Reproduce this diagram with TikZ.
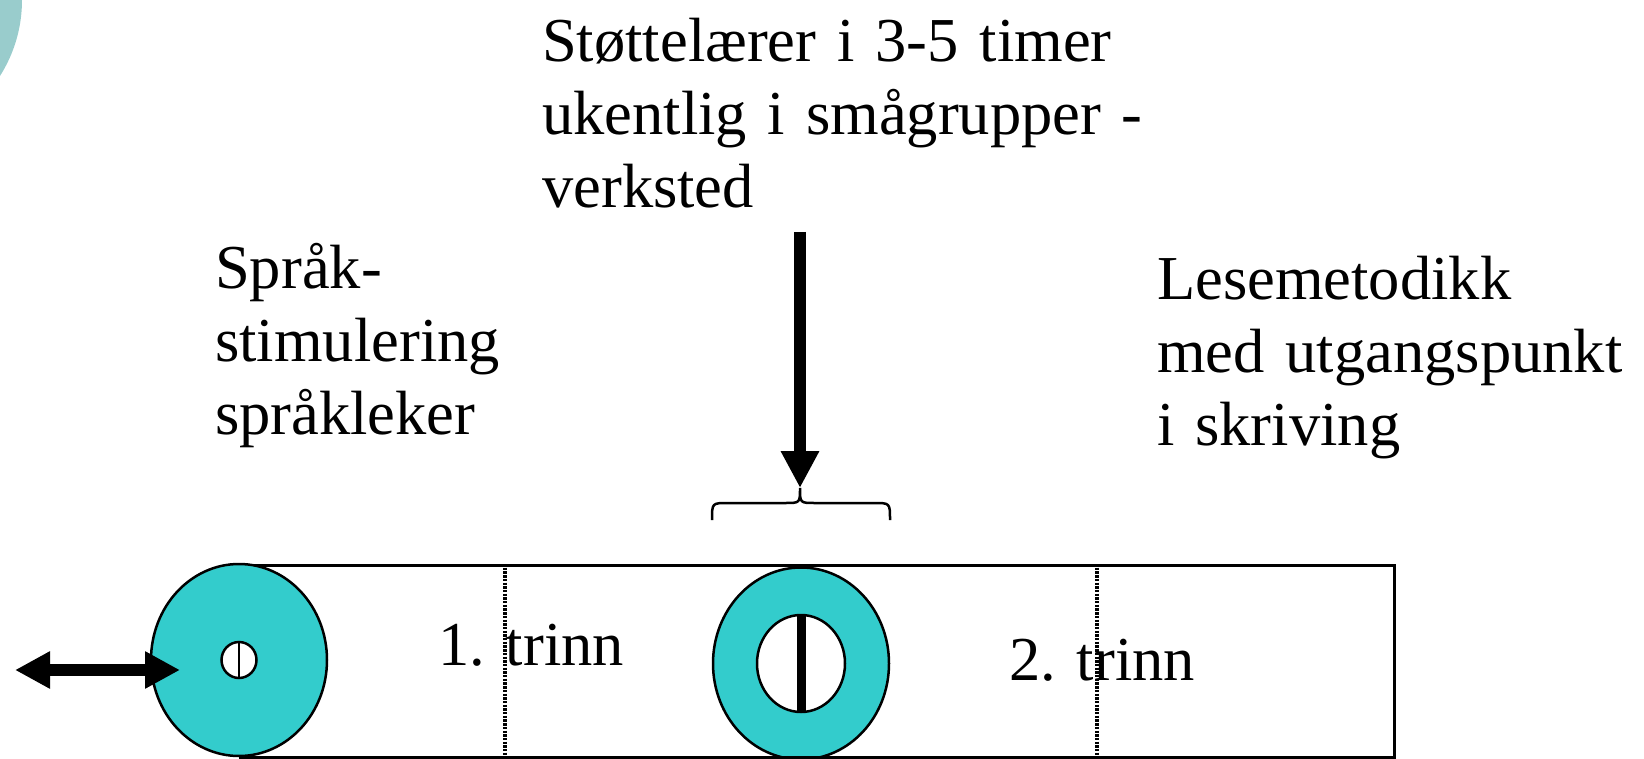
\documentclass[tikz,border=0pt]{standalone}
\usepackage{fontspec}
\setmainfont{Liberation Serif}
\frenchspacing
\usetikzlibrary{shapes.geometric,arrows.meta}
\definecolor{donutfill}{RGB}{51,204,204}
\definecolor{decofill}{RGB}{153,204,204}
\begin{document}
\begin{tikzpicture}[x=1pt,y=-1pt,
  lbl/.style={font=\fontsize{62.5}{73}\selectfont\frenchspacing, inner sep=0pt, anchor=base west, align=left, text width=700pt},
  donut/.style={ellipse, draw=black, line width=2.5pt, fill=donutfill, minimum width=176pt, minimum height=192pt, inner sep=0pt},
  hole/.style={ellipse, draw=black, line width=2.5pt, fill=white, inner sep=0pt},
  band/.style={draw=black, line width=3pt, inner sep=0pt, anchor=north west, minimum width=1154pt, minimum height=192pt},
  dotline/.style={line width=3.2pt, dash pattern=on 2.4pt off 1.3pt},
  dblarrow/.style={line width=12pt, {Triangle[length=35pt,width=35pt]}-{Triangle[length=35pt,width=35pt]}},
  downarrow/.style={line width=12pt, -{Triangle[length=37pt,width=36pt]}},
  bracestyle/.style={line width=2.5pt}]
\useasboundingbox (0,0) rectangle (1644,759);
% corner decoration
\fill[decofill] (-120,0) circle (142);
% middle donut
\node[donut] (d2) at (801,663.5) {};
\node[hole, minimum width=88pt, minimum height=97pt] (h2) at (d2.center) {};
\draw[line width=9pt] (h2.north) -- (h2.south);
% band
\node[band] (bandbox) at (239,564) {};
\draw[dotline] (505,564) -- (505,756);
\draw[dotline] (1097,564) -- (1097,756);
% left donut
\node[donut] (d1) at (239,660) {};
\node[hole, minimum width=35pt, minimum height=36pt] (h1) at (d1.center) {};
\draw[line width=2.5pt] (h1.north) -- (h1.south);
% double arrow
\coordinate (la) at (15,670);
\coordinate (ra) at (180,670);
\draw[dblarrow] (la) -- (ra);
% brace
\coordinate (bl) at (712,520);
\coordinate (bt) at (800,488);
\coordinate (br) at (890,520);
\draw[bracestyle] (bl) .. controls (712,503) .. (728,503) -- (785,503) .. controls (800,503) .. (bt) .. controls (800,503) .. (815,503) -- (874,503) .. controls (890,503) .. (br);
% down arrow
\coordinate (atop) at (800,232);
\draw[downarrow] (atop) -- (bt);
% labels
\node[lbl] (t1) at (542,62) {Støttelærer i 3-5 timer\\ukentlig i smågrupper -\\verksted};
\node[lbl] (t2) at (215,289) {Språk-\\stimulering\\språkleker};
\node[lbl] (t3) at (1157,300) {Lesemetodikk\\med utgangspunkt\\i skriving};
\node[lbl] (s1) at (438,665) {1. trinn};
\node[lbl] (s2) at (1009,680) {2. trinn};
\end{tikzpicture}
\end{document}
